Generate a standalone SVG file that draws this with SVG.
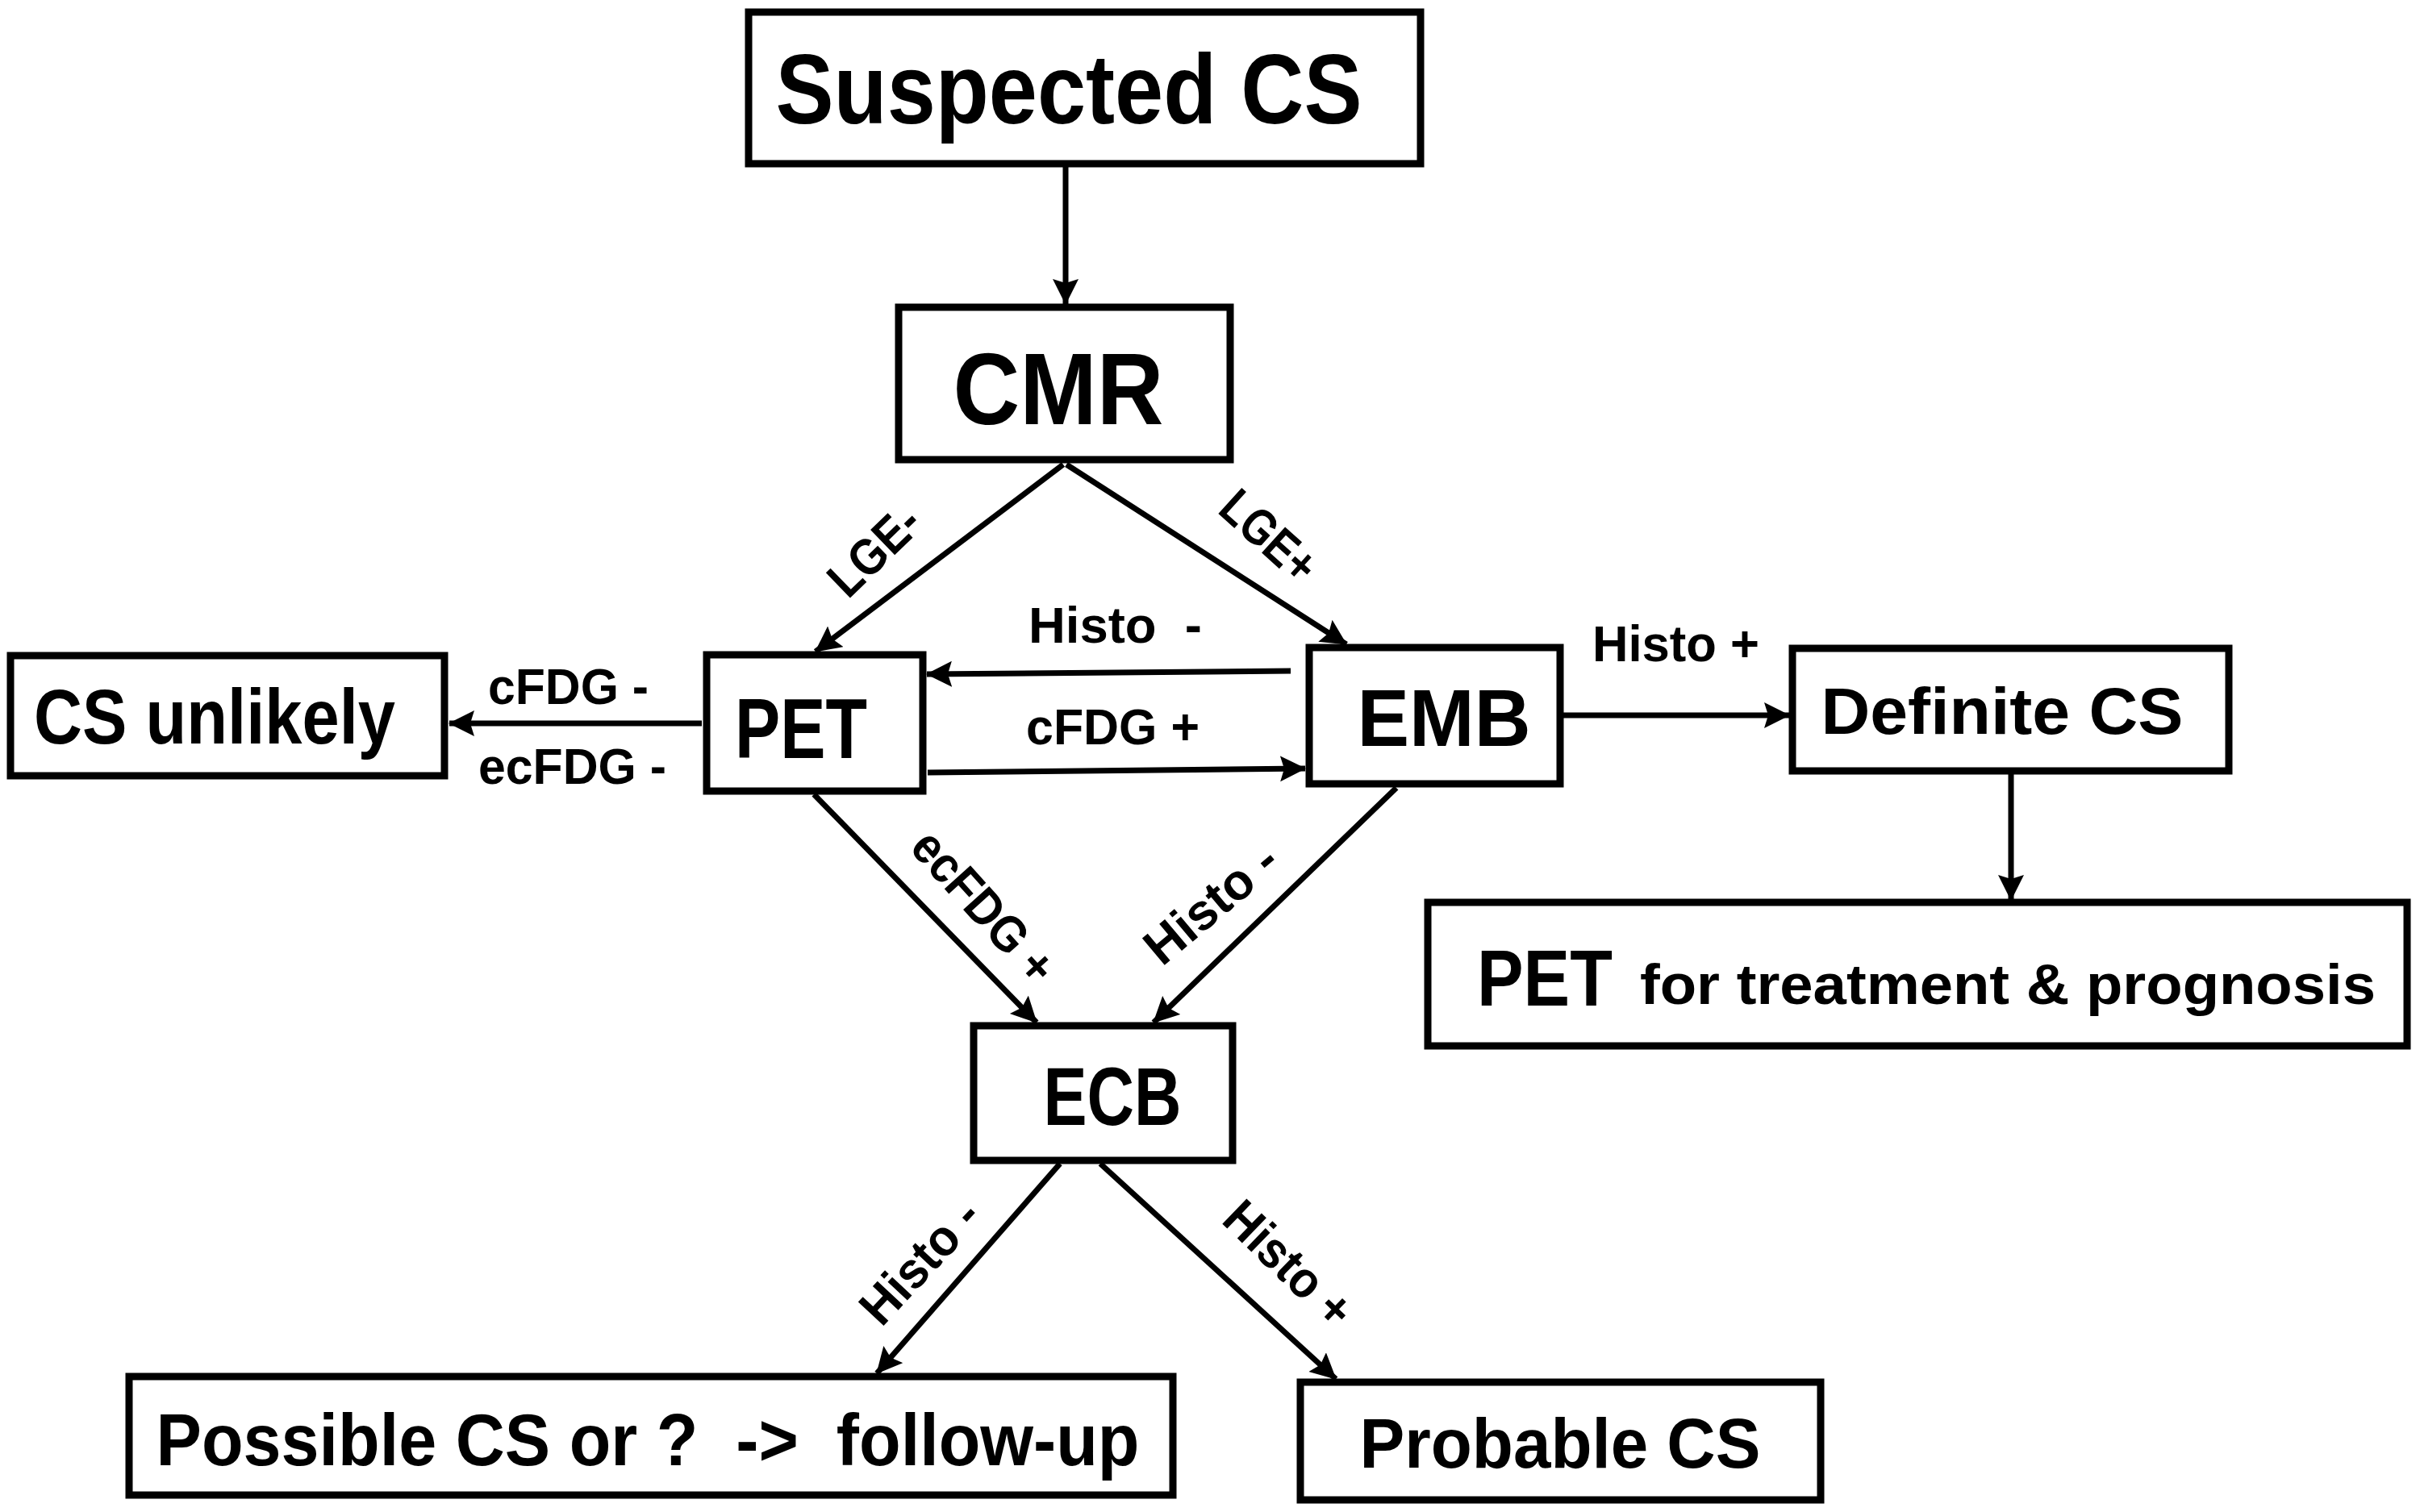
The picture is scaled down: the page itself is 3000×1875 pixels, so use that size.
<svg xmlns="http://www.w3.org/2000/svg" width="3000" height="1875" viewBox="0 0 3000 1875">
  <style>
    .box { fill: #ffffff; stroke: #000000; stroke-width: 9; }
    .conn { fill: none; stroke: #000000; stroke-width: 7; marker-end: url(#arrow); }
    .t { font-family: "Liberation Sans", Arial, sans-serif; font-weight: bold; fill: #000000; }
    .lbl { font-family: "Liberation Sans", Arial, sans-serif; font-weight: bold; fill: #000000; font-size: 63px; }
  </style>
  <defs>
    <marker id="arrow" markerUnits="userSpaceOnUse" markerWidth="34" markerHeight="34" refX="31" refY="16" orient="auto">
      <path d="M0,0 L32,16 L0,32 L5,16 z" fill="#000000"/>
    </marker>
  </defs>
  <rect width="3000" height="1875" fill="#ffffff"/>

  <g id="connectors">
    <line class="conn" x1="1321" y1="207" x2="1321" y2="377"/>
    <line class="conn" x1="1318" y1="576" x2="1011" y2="808"/>
    <line class="conn" x1="1322" y1="576" x2="1669" y2="799"/>
    <line class="conn" x1="1600" y1="832" x2="1149" y2="836"/>
    <line class="conn" x1="1150" y1="958" x2="1618" y2="953"/>
    <line class="conn" x1="870" y1="897" x2="557" y2="897"/>
    <line class="conn" x1="1938" y1="887" x2="2218" y2="887"/>
    <line class="conn" x1="2493" y1="960" x2="2493" y2="1116"/>
    <line class="conn" x1="1009" y1="985" x2="1285" y2="1268"/>
    <line class="conn" x1="1731" y1="977" x2="1430" y2="1268"/>
    <line class="conn" x1="1314" y1="1443" x2="1087" y2="1703"/>
    <line class="conn" x1="1364" y1="1443" x2="1656" y2="1710"/>
    <text class="lbl" x="605" y="873" textLength="199" lengthAdjust="spacingAndGlyphs">cFDG -</text>
    <text class="lbl" x="593" y="972" textLength="233" lengthAdjust="spacingAndGlyphs">ecFDG -</text>
    <text class="lbl" x="1275" y="797" textLength="215" lengthAdjust="spacingAndGlyphs">Histo&#160; -</text>
    <text class="lbl" x="1272" y="923" textLength="215" lengthAdjust="spacingAndGlyphs">cFDG +</text>
    <text class="lbl" x="1974" y="820" textLength="207" lengthAdjust="spacingAndGlyphs">Histo +</text>
    <text class="lbl" transform="translate(1082,681) rotate(-44)" x="0" y="24" font-size="68" text-anchor="middle" textLength="132" lengthAdjust="spacingAndGlyphs">LGE-</text>
    <text class="lbl" transform="translate(1575,663) rotate(42)" x="0" y="24" font-size="68" text-anchor="middle" textLength="138" lengthAdjust="spacingAndGlyphs">LGE+</text>
    <text class="lbl" transform="translate(1220,1124) rotate(48)" x="0" y="22" text-anchor="middle" textLength="232" lengthAdjust="spacingAndGlyphs">ecFDG +</text>
    <text class="lbl" transform="translate(1501,1120) rotate(-40)" x="0" y="22" text-anchor="middle" textLength="195" lengthAdjust="spacingAndGlyphs">Histo -</text>
    <text class="lbl" transform="translate(1140,1564) rotate(-47)" x="0" y="22" text-anchor="middle" textLength="186" lengthAdjust="spacingAndGlyphs">Histo -</text>
    <text class="lbl" transform="translate(1598,1567) rotate(44)" x="0" y="22" text-anchor="middle" textLength="195" lengthAdjust="spacingAndGlyphs">Histo +</text>
  </g>

  <g id="suspected-cs">
    <rect class="box" x="928" y="15" width="833" height="188"/>
    <text class="t" x="1325" y="153" font-size="123" text-anchor="middle" textLength="727" lengthAdjust="spacingAndGlyphs">Suspected CS</text>
  </g>
  <g id="cmr">
    <rect class="box" x="1114" y="381" width="411" height="189"/>
    <text class="t" x="1312" y="526" font-size="126" text-anchor="middle" textLength="261" lengthAdjust="spacingAndGlyphs">CMR</text>
  </g>
  <g id="cs-unlikely">
    <rect class="box" x="13" y="813" width="538" height="149"/>
    <text class="t" x="266" y="922" font-size="96" text-anchor="middle" textLength="448" lengthAdjust="spacingAndGlyphs">CS unlikely</text>
  </g>
  <g id="pet">
    <rect class="box" x="876" y="812" width="268" height="169"/>
    <text class="t" x="993" y="940" font-size="105" text-anchor="middle" textLength="164" lengthAdjust="spacingAndGlyphs">PET</text>
  </g>
  <g id="emb">
    <rect class="box" x="1623" y="803" width="311" height="169"/>
    <text class="t" x="1790" y="925" font-size="100" text-anchor="middle" textLength="215" lengthAdjust="spacingAndGlyphs">EMB</text>
  </g>
  <g id="definite-cs">
    <rect class="box" x="2222" y="804" width="541" height="152"/>
    <text class="t" x="2482" y="910" font-size="82" text-anchor="middle" textLength="449" lengthAdjust="spacingAndGlyphs">Definite CS</text>
  </g>
  <g id="pet-treatment">
    <rect class="box" x="1770" y="1119" width="1214" height="178"/>
    <text class="t" x="1831" y="1247" font-size="99" textLength="168" lengthAdjust="spacingAndGlyphs">PET</text>
    <text class="t" x="2033" y="1245" font-size="70" textLength="912" lengthAdjust="spacingAndGlyphs">for treatment &amp; prognosis</text>
  </g>
  <g id="ecb">
    <rect class="box" x="1207" y="1272" width="321" height="167"/>
    <text class="t" x="1379" y="1395" font-size="102" text-anchor="middle" textLength="171" lengthAdjust="spacingAndGlyphs">ECB</text>
  </g>
  <g id="possible-cs">
    <rect class="box" x="160" y="1707" width="1294" height="147"/>
    <text class="t" x="803" y="1817" font-size="91" text-anchor="middle" textLength="1219" lengthAdjust="spacingAndGlyphs">Possible CS or ?&#160; -&gt;&#160; follow-up</text>
  </g>
  <g id="probable-cs">
    <rect class="box" x="1612" y="1714" width="645" height="146"/>
    <text class="t" x="1934" y="1820" font-size="87" text-anchor="middle" textLength="497" lengthAdjust="spacingAndGlyphs">Probable CS</text>
  </g>
</svg>
